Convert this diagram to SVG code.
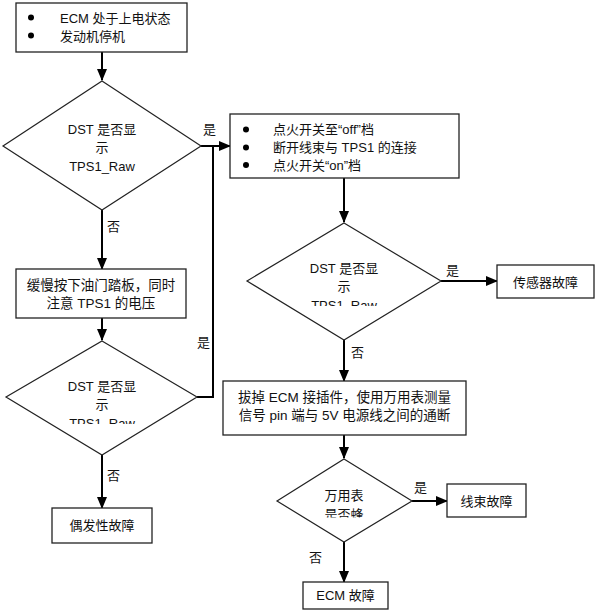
<svg xmlns="http://www.w3.org/2000/svg" width="597" height="612" viewBox="0 0 597 612">
<style>
text{font-family:"Liberation Sans","Noto Sans CJK SC",sans-serif;font-size:13px;fill:#111}
.c{text-anchor:middle}
.w{font-size:13.5px}
.box{fill:#fff;stroke:#222;stroke-width:1.3}
.dia{fill:#fff;stroke:#222;stroke-width:1.2}
.ln{fill:none;stroke:#000;stroke-width:2}
.lab{font-size:13px}
</style>
<defs>
<marker id="ah" markerWidth="12" markerHeight="10" refX="11" refY="5" orient="auto" markerUnits="userSpaceOnUse">
<path d="M0,0 L12,5 L0,10 z" fill="#000"/>
</marker>
<clipPath id="cl2"><rect x="0" y="330" width="220" height="94"/></clipPath>
<clipPath id="cl3"><rect x="240" y="220" width="210" height="86"/></clipPath>
<clipPath id="cl4"><rect x="270" y="455" width="150" height="62.5"/></clipPath>
</defs>
<g id="connectors">
<line class="ln" x1="102" y1="52" x2="102" y2="80" marker-end="url(#ah)"/>
<line class="ln" x1="201" y1="146" x2="230" y2="146" marker-end="url(#ah)"/>
<line class="ln" x1="102" y1="210" x2="102" y2="269" marker-end="url(#ah)"/>
<line class="ln" x1="102" y1="318" x2="102" y2="340" marker-end="url(#ah)"/>
<polyline class="ln" points="197,397 213,397 213,146"/>
<line class="ln" x1="102" y1="455" x2="102" y2="508" marker-end="url(#ah)"/>
<line class="ln" x1="344" y1="178" x2="344" y2="222" marker-end="url(#ah)"/>
<line class="ln" x1="441" y1="281" x2="497" y2="281" marker-end="url(#ah)"/>
<line class="ln" x1="344" y1="340" x2="344" y2="381" marker-end="url(#ah)"/>
<line class="ln" x1="344" y1="435" x2="344" y2="458" marker-end="url(#ah)"/>
<line class="ln" x1="412" y1="501" x2="447" y2="501" marker-end="url(#ah)"/>
<line class="ln" x1="344" y1="542" x2="344" y2="582" marker-end="url(#ah)"/>
<text class="lab" x="203" y="134">是</text>
<text class="lab" x="107" y="231">否</text>
<text class="lab" x="197" y="347">是</text>
<text class="lab" x="107" y="480">否</text>
<text class="lab" x="446" y="275">是</text>
<text class="lab" x="351" y="357">否</text>
<text class="lab" x="414" y="492">是</text>
<text class="lab" x="309" y="562">否</text>
</g>
<g id="start">
<rect class="box" x="16" y="3" width="171" height="49"/>
<circle cx="31" cy="17.5" r="3" fill="#000"/>
<circle cx="31" cy="35.5" r="3" fill="#000"/>
<text x="60" y="22.5">ECM 处于上电状态</text>
<text x="60" y="40.5">发动机停机</text>
</g>
<g id="d1">
<polygon class="dia" points="102,81 201,146 102,210 3,146"/>
<text class="c" x="102" y="134">DST 是否显</text>
<text class="c" x="102" y="152">示</text>
<text class="c" x="102" y="171">TPS1_Raw</text>
</g>
<g id="pedal">
<rect class="box" x="16" y="269" width="170" height="49"/>
<text class="c w" x="101" y="290">缓慢按下油门踏板，同时</text>
<text class="c w" x="101" y="308">注意 TPS1 的电压</text>
</g>
<g id="d2">
<polygon class="dia" points="102,341 197,397 102,455 6,397"/>
<g clip-path="url(#cl2)">
<text class="c" x="102" y="390.5">DST 是否显</text>
<text class="c" x="102" y="408.5">示</text>
<text class="c" x="102" y="427.5">TPS1_Raw</text>
</g>
</g>
<g id="intermittent">
<rect class="box" x="52" y="508" width="100" height="35"/>
<text class="c" x="102" y="530">偶发性故障</text>
</g>
<g id="ign">
<rect class="box" x="230" y="114" width="229" height="64"/>
<circle cx="246" cy="129.5" r="3" fill="#000"/>
<circle cx="246" cy="147.5" r="3" fill="#000"/>
<circle cx="246" cy="165" r="3" fill="#000"/>
<text x="273" y="134">点火开关至“off”档</text>
<text x="273" y="152">断开线束与 TPS1 的连接</text>
<text x="273" y="170">点火开关“on”档</text>
</g>
<g id="d3">
<polygon class="dia" points="344,223 441,281 344,340 247,281"/>
<g clip-path="url(#cl3)">
<text class="c" x="344" y="272.5">DST 是否显</text>
<text class="c" x="344" y="291">示</text>
<text class="c" x="344" y="309.5">TPS1_Raw</text>
</g>
</g>
<g id="sensor">
<rect class="box" x="497" y="265" width="97" height="33"/>
<text class="c" x="545.5" y="286.5">传感器故障</text>
</g>
<g id="meter">
<rect class="box" x="223" y="381" width="243" height="54"/>
<text class="c w" x="344.5" y="401.5">拔掉 ECM 接插件，使用万用表测量</text>
<text class="c w" x="344.5" y="419.5">信号 pin 端与 5V 电源线之间的通断</text>
</g>
<g id="d4">
<polygon class="dia" points="344,459 412,501 344,542 277,501"/>
<text class="c" x="344" y="499.5">万用表</text>
<g clip-path="url(#cl4)">
<text class="c" x="344" y="518.5">是否蜂</text>
</g>
</g>
<g id="harness">
<rect class="box" x="447" y="484" width="79" height="33"/>
<text class="c" x="486.5" y="505.5">线束故障</text>
</g>
<g id="ecm">
<rect class="box" x="303" y="582" width="85" height="27"/>
<text class="c" x="345.5" y="600">ECM 故障</text>
</g>
</svg>
